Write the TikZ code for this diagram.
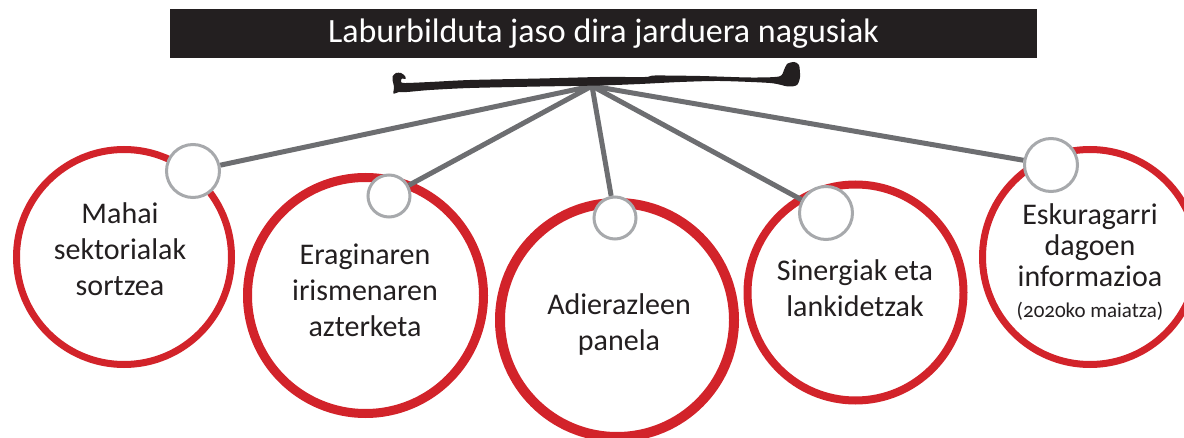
\documentclass[tikz,border=0pt]{standalone}
\usepackage{fontspec}
\setmainfont{Carlito}[Numbers=OldStyle]
\definecolor{ringred}{HTML}{D2232A}
\definecolor{spokegrey}{HTML}{6D6E71}
\definecolor{knobgrey}{HTML}{A7A9AC}
\definecolor{inkblack}{HTML}{231F20}

\begin{document}
\begin{tikzpicture}[x=1pt,y=1pt,
    every node/.style={inner sep=0pt},
    redring/.style={circle,draw=ringred,fill=white},
    knob/.style={circle,draw=knobgrey,line width=3,fill=white},
    spoke/.style={draw=spokegrey,line width=5},
    ringtext/.style={text=inkblack,align=center,font=\fontsize{30}{36}\selectfont}]
            \useasboundingbox (0,0) rectangle (1184,-438);
            % title bar
            \node [fill=inkblack,minimum width=867,minimum height=49,text=white,font=\fontsize{34}{40}\selectfont] (title) at (603.5,-33.5) {Laburbilduta jaso dira jarduera nagusiak};
            % red rings
            \node [redring,line width=7,minimum size=215] (r1) at (124,-257) {};
            \node [redring,line width=9,minimum size=236] (r2) at (365.5,-295.5) {};
            \node [redring,line width=10,minimum size=234] (r3) at (617,-320) {};
            \node [redring,line width=8,minimum size=216] (r4) at (855.5,-292.5) {};
            \node [redring,line width=7,minimum size=215] (r5) at (1090,-257) {};
            % knobs
            \node [knob,minimum size=53] (k1) at (193,-171) {};
            \node [knob,minimum size=42] (k2) at (389,-196) {};
            \node [knob,minimum size=42] (k3) at (615,-218) {};
            \node [knob,minimum size=53] (k4) at (826,-213) {};
            \node [knob,minimum size=53] (k5) at (1051,-165) {};
            % spokes
            \coordinate (hub) at (592,-86);
            \draw [spoke] (hub) -- (k1);
            \draw [spoke] (hub) -- (k2);
            \draw [spoke] (hub) -- (k3);
            \draw [spoke] (hub) -- (k4);
            \draw [spoke] (hub) -- (k5);
            % brush stroke
            \fill [inkblack] plot [smooth cycle,tension=0.45] coordinates {(404,-83) (430,-82) (470,-80) (540,-78.5) (600,-77) (645,-77) (655,-75.5) (700,-76) (750,-77.5) (779,-76.5) (784,-70) (787,-64) (794,-62) (799,-65) (800,-77) (797,-85) (788,-86.5) (770,-83) (720,-81) (680,-82) (640,-84) (600,-85.5) (540,-86.5) (470,-88) (430,-90) (407,-92) (399,-92) (393.5,-93.5) (394,-87) (392.5,-80) (392.5,-76.5) (396,-73) (401,-73) (405,-76) (405.5,-79) (402,-78.5) (401,-81)};
            % texts
            \node [ringtext] (t1) at (120,-249) {Mahai\\sektorialak\\sortzea};
            \node [ringtext] (t2) at (365,-290) {Eraginaren\\irismenaren\\azterketa};
            \node [ringtext] (t3) at (619,-325) {Adierazleen\\panela};
            \node [ringtext] (t4) at (855,-288) {Sinergiak eta\\lankidetzak};
            \node [ringtext,font=\fontsize{30}{31}\selectfont] (t5) at (1090,-262) {Eskuragarri\\dagoen\\informazioa\\{\fontsize{21}{24}\selectfont(2020ko maiatza)}};
\end{tikzpicture}
\end{document}
